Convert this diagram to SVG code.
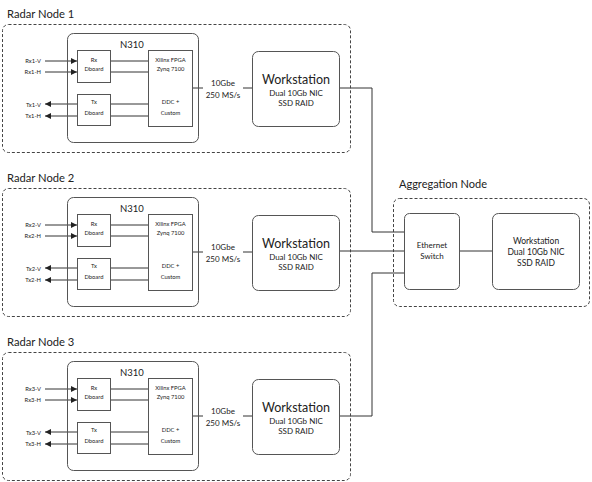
<svg xmlns="http://www.w3.org/2000/svg" width="592" height="482" viewBox="0 0 592 482">
<defs>
<marker id="arr" viewBox="0 0 10 10" refX="10" refY="5" markerWidth="6" markerHeight="6" markerUnits="userSpaceOnUse" orient="auto">
<path d="M0,0 L10,5 L0,10 Z" fill="#222"/>
</marker>
</defs>
<style>
text{font-family:Lato,"Liberation Sans",sans-serif;fill:#222}
.group{fill:none;stroke:#444;stroke-width:1;stroke-dasharray:3 2}
.box{fill:#fff;stroke:#555;stroke-width:1}
.ln{fill:none;stroke:#333;stroke-width:1}
.title{font-size:11.2px}
.big{font-size:12.5px;text-anchor:middle}
.mid{font-size:8px;text-anchor:middle}
.n310{font-size:9.5px;text-anchor:middle}
.tiny{font-size:5.8px;text-anchor:middle}
.lab{font-size:5.8px;text-anchor:end}
</style>
<rect width="592" height="482" fill="#fff"/>

<g id="connectors">
  <g id="conn-node1">
    <line class="ln" x1="45" y1="61" x2="77" y2="61" marker-end="url(#arr)"/>
    <line class="ln" x1="45" y1="72" x2="77" y2="72" marker-end="url(#arr)"/>
    <line class="ln" x1="110" y1="61" x2="148" y2="61"/>
    <line class="ln" x1="110" y1="72" x2="148" y2="72"/>
    <line class="ln" x1="148" y1="104" x2="45" y2="104" marker-end="url(#arr)"/>
    <line class="ln" x1="148" y1="116" x2="45" y2="116" marker-end="url(#arr)"/>
    <line class="ln" x1="193" y1="88" x2="252" y2="88"/>
  </g>
  <g id="conn-node2" transform="translate(0,164)">
    <line class="ln" x1="45" y1="61" x2="77" y2="61" marker-end="url(#arr)"/>
    <line class="ln" x1="45" y1="72" x2="77" y2="72" marker-end="url(#arr)"/>
    <line class="ln" x1="110" y1="61" x2="148" y2="61"/>
    <line class="ln" x1="110" y1="72" x2="148" y2="72"/>
    <line class="ln" x1="148" y1="104" x2="45" y2="104" marker-end="url(#arr)"/>
    <line class="ln" x1="148" y1="116" x2="45" y2="116" marker-end="url(#arr)"/>
    <line class="ln" x1="193" y1="88" x2="252" y2="88"/>
  </g>
  <g id="conn-node3" transform="translate(0,328)">
    <line class="ln" x1="45" y1="61" x2="77" y2="61" marker-end="url(#arr)"/>
    <line class="ln" x1="45" y1="72" x2="77" y2="72" marker-end="url(#arr)"/>
    <line class="ln" x1="110" y1="61" x2="148" y2="61"/>
    <line class="ln" x1="110" y1="72" x2="148" y2="72"/>
    <line class="ln" x1="148" y1="104" x2="45" y2="104" marker-end="url(#arr)"/>
    <line class="ln" x1="148" y1="116" x2="45" y2="116" marker-end="url(#arr)"/>
    <line class="ln" x1="193" y1="88" x2="252" y2="88"/>
  </g>
  <polyline class="ln" points="339,88 372,88 372,232 404,232"/>
  <line class="ln" x1="339" y1="251" x2="404" y2="251"/>
  <polyline class="ln" points="339,416 372,416 372,273 404,273"/>
  <line class="ln" x1="459" y1="251" x2="492" y2="251"/>
</g>

<g id="radar-node-1">
  <rect class="group" x="2.5" y="24.5" width="348" height="128" rx="6"/>
  <text class="title" x="7" y="18">Radar Node 1</text>
</g>
<g id="radar-node-2">
  <rect class="group" x="2.5" y="188.5" width="348" height="128" rx="6"/>
  <text class="title" x="7" y="182">Radar Node 2</text>
</g>
<g id="radar-node-3">
  <rect class="group" x="2.5" y="352.5" width="348" height="128" rx="6"/>
  <text class="title" x="7" y="346">Radar Node 3</text>
</g>

<g id="n310-1">
  <rect class="box" x="67.5" y="33.5" width="131" height="109" rx="6" fill-opacity="0"/>
  <text class="n310" x="132" y="48">N310</text>
</g>
<g id="n310-2" transform="translate(0,164)">
  <rect class="box" x="67.5" y="33.5" width="131" height="109" rx="6" fill-opacity="0"/>
  <text class="n310" x="132" y="48">N310</text>
</g>
<g id="n310-3" transform="translate(0,328)">
  <rect class="box" x="67.5" y="33.5" width="131" height="109" rx="6" fill-opacity="0"/>
  <text class="n310" x="132" y="48">N310</text>
</g>

<g id="rx-dboard-1">
  <rect class="box" x="77.5" y="50.5" width="33" height="32"/>
  <text class="tiny" x="94" y="62">Rx</text>
  <text class="tiny" x="94" y="71">Dboard</text>
</g>
<g id="tx-dboard-1">
  <rect class="box" x="77.5" y="94.5" width="33" height="31"/>
  <text class="tiny" x="94" y="104">Tx</text>
  <text class="tiny" x="94" y="115">Dboard</text>
</g>
<g id="fpga-1">
  <rect class="box" x="148.5" y="50.5" width="44" height="76"/>
  <text class="tiny" x="170.5" y="62">Xilinx FPGA</text>
  <text class="tiny" x="170.5" y="71">Zynq 7100</text>
  <text class="tiny" x="170.5" y="104">DDC +</text>
  <text class="tiny" x="170.5" y="115">Custom</text>
</g>
<g id="ports-1">
  <text class="lab" x="41" y="63">Rx1-V</text>
  <text class="lab" x="41" y="74">Rx1-H</text>
  <text class="lab" x="41" y="107">Tx1-V</text>
  <text class="lab" x="41" y="118">Tx1-H</text>
</g>
<g id="workstation-1">
  <rect class="box" x="252.5" y="51.5" width="87" height="75" rx="6"/>
  <text class="big" x="296" y="84">Workstation</text>
  <text class="mid" x="296" y="95.5">Dual 10Gb NIC</text>
  <text class="mid" x="296" y="105.5">SSD RAID</text>
</g>
<g id="link-label-1">
  <rect x="203" y="76" width="40" height="24" fill="#fff"/>
  <text class="mid" x="223" y="86">10Gbe</text>
  <text class="mid" x="223" y="98">250 MS/s</text>
</g>

<g id="rx-dboard-2" transform="translate(0,164)">
  <rect class="box" x="77.5" y="50.5" width="33" height="32"/>
  <text class="tiny" x="94" y="62">Rx</text>
  <text class="tiny" x="94" y="71">Dboard</text>
</g>
<g id="tx-dboard-2" transform="translate(0,164)">
  <rect class="box" x="77.5" y="94.5" width="33" height="31"/>
  <text class="tiny" x="94" y="104">Tx</text>
  <text class="tiny" x="94" y="115">Dboard</text>
</g>
<g id="fpga-2" transform="translate(0,164)">
  <rect class="box" x="148.5" y="50.5" width="44" height="76"/>
  <text class="tiny" x="170.5" y="62">Xilinx FPGA</text>
  <text class="tiny" x="170.5" y="71">Zynq 7100</text>
  <text class="tiny" x="170.5" y="104">DDC +</text>
  <text class="tiny" x="170.5" y="115">Custom</text>
</g>
<g id="ports-2" transform="translate(0,164)">
  <text class="lab" x="41" y="63">Rx2-V</text>
  <text class="lab" x="41" y="74">Rx2-H</text>
  <text class="lab" x="41" y="107">Tx2-V</text>
  <text class="lab" x="41" y="118">Tx2-H</text>
</g>
<g id="workstation-2" transform="translate(0,164)">
  <rect class="box" x="252.5" y="51.5" width="87" height="75" rx="6"/>
  <text class="big" x="296" y="84">Workstation</text>
  <text class="mid" x="296" y="95.5">Dual 10Gb NIC</text>
  <text class="mid" x="296" y="105.5">SSD RAID</text>
</g>
<g id="link-label-2" transform="translate(0,164)">
  <rect x="203" y="76" width="40" height="24" fill="#fff"/>
  <text class="mid" x="223" y="86">10Gbe</text>
  <text class="mid" x="223" y="98">250 MS/s</text>
</g>

<g id="rx-dboard-3" transform="translate(0,328)">
  <rect class="box" x="77.5" y="50.5" width="33" height="32"/>
  <text class="tiny" x="94" y="62">Rx</text>
  <text class="tiny" x="94" y="71">Dboard</text>
</g>
<g id="tx-dboard-3" transform="translate(0,328)">
  <rect class="box" x="77.5" y="94.5" width="33" height="31"/>
  <text class="tiny" x="94" y="104">Tx</text>
  <text class="tiny" x="94" y="115">Dboard</text>
</g>
<g id="fpga-3" transform="translate(0,328)">
  <rect class="box" x="148.5" y="50.5" width="44" height="76"/>
  <text class="tiny" x="170.5" y="62">Xilinx FPGA</text>
  <text class="tiny" x="170.5" y="71">Zynq 7100</text>
  <text class="tiny" x="170.5" y="104">DDC +</text>
  <text class="tiny" x="170.5" y="115">Custom</text>
</g>
<g id="ports-3" transform="translate(0,328)">
  <text class="lab" x="41" y="63">Rx3-V</text>
  <text class="lab" x="41" y="74">Rx3-H</text>
  <text class="lab" x="41" y="107">Tx3-V</text>
  <text class="lab" x="41" y="118">Tx3-H</text>
</g>
<g id="workstation-3" transform="translate(0,328)">
  <rect class="box" x="252.5" y="51.5" width="87" height="75" rx="6"/>
  <text class="big" x="296" y="84">Workstation</text>
  <text class="mid" x="296" y="95.5">Dual 10Gb NIC</text>
  <text class="mid" x="296" y="105.5">SSD RAID</text>
</g>
<g id="link-label-3" transform="translate(0,328)">
  <rect x="203" y="76" width="40" height="24" fill="#fff"/>
  <text class="mid" x="223" y="86">10Gbe</text>
  <text class="mid" x="223" y="98">250 MS/s</text>
</g>

<g id="aggregation-node">
  <rect class="group" x="393.5" y="198.5" width="196" height="108" rx="6"/>
  <text class="title" x="399" y="188" style="font-size:11px">Aggregation Node</text>
</g>
<g id="ethernet-switch">
  <rect class="box" x="404.5" y="213.5" width="55" height="76" rx="5"/>
  <text class="mid" x="432" y="248">Ethernet</text>
  <text class="mid" x="432" y="259">Switch</text>
</g>
<g id="agg-workstation">
  <rect class="box" x="492.5" y="213.5" width="87" height="76" rx="6"/>
  <text class="mid" x="536" y="244" style="font-size:8.5px">Workstation</text>
  <text class="mid" x="536" y="255" style="font-size:8.5px">Dual 10Gb NIC</text>
  <text class="mid" x="536" y="266" style="font-size:8.5px">SSD RAID</text>
</g>
</svg>
